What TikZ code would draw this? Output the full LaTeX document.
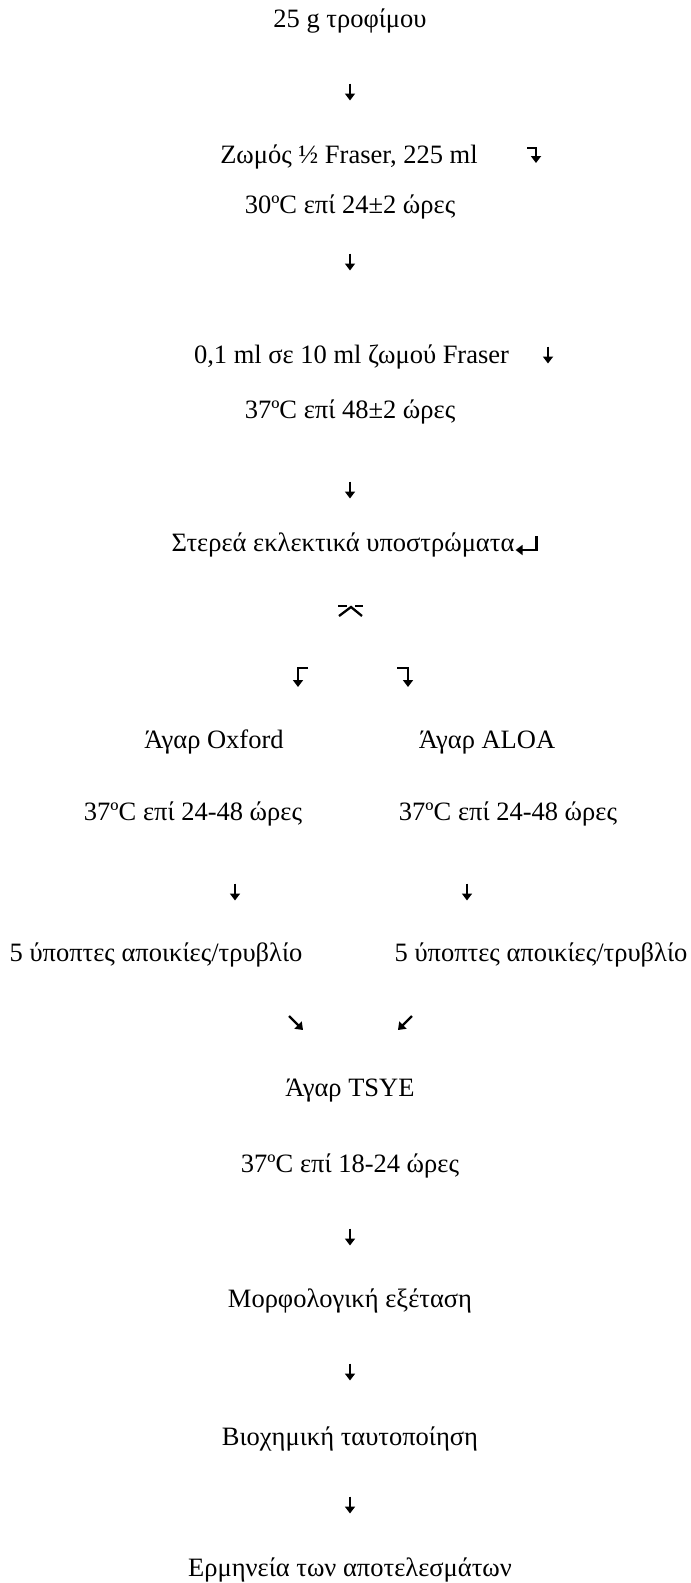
\documentclass[tikz,border=0pt]{standalone}
\usepackage{fontspec}
\setmainfont{Liberation Serif}
\usetikzlibrary{arrows.meta,calc}
\begin{document}
\begin{tikzpicture}[x=1pt,y=-1pt,
  txt/.style={inner sep=0pt, anchor=base, font=\fontsize{26.5}{30}\selectfont},
  glyph/.style={line width=2.3pt, line join=miter, line cap=butt},
  tip/.style={-{Triangle[width=10pt,length=7pt]}}]
\useasboundingbox[fill=white] (0,0) rectangle (691,1583);

% texts
\node[txt] (t1)  at (350,27)    {25 g τροφίμου};
\node[txt] (t2)  at (349,163)   {Ζωμός ½ Fraser, 225 ml};
\node[txt] (t3)  at (350,213)   {30ºC επί 24±2 ώρες};
\node[txt] (t4)  at (351.5,363) {0,1 ml σε 10 ml ζωμού Fraser};
\node[txt] (t5)  at (350,418)   {37ºC επί 48±2 ώρες};
\node[txt] (t6)  at (343,551)   {Στερεά εκλεκτικά υποστρώματα};
\node[txt] (t7)  at (214,748)   {Άγαρ Oxford};
\node[txt] (t8)  at (487,748)   {Άγαρ ALOA};
\node[txt] (t9)  at (193,820)   {37ºC επί 24-48 ώρες};
\node[txt] (t10) at (508,820)   {37ºC επί 24-48 ώρες};
\node[txt] (t11) at (156,961)   {5 ύποπτες αποικίες/τρυβλίο};
\node[txt] (t12) at (541,961)   {5 ύποπτες αποικίες/τρυβλίο};
\node[txt] (t13) at (350,1096)  {Άγαρ TSYE};
\node[txt] (t14) at (350,1172)  {37ºC επί 18-24 ώρες};
\node[txt] (t15) at (350,1307)  {Μορφολογική εξέταση};
\node[txt] (t16) at (350,1445)  {Βιοχημική ταυτοποίηση};
\node[txt] (t17) at (350,1576)  {Ερμηνεία των αποτελεσμάτων};

% glyph positions
\coordinate (d1) at (350,92);
\coordinate (d2) at (350,262);
\coordinate (d3) at (548,355);
\coordinate (d4) at (350,490);
\coordinate (d5) at (235,892);
\coordinate (d6) at (467,892);
\coordinate (d7) at (350,1237);
\coordinate (d8) at (350,1372);
\coordinate (d9) at (350,1505);
\coordinate (b1) at (532,155);
\coordinate (r1) at ($(t6.base east)+(1,0)$);
\coordinate (k1) at (350,611);
\coordinate (s1) at (303,677);
\coordinate (s2) at (405,677);
\coordinate (g1) at (296,1023);
\coordinate (g2) at (405,1023);

% down arrows
\foreach \p in {d1,d2,d3,d4,d5,d6,d7,d8,d9}
  \draw[glyph,tip] (\p) ++(0,-8.5) -- ++(0,17);

% bent arrow after "225 ml"
\draw[glyph,tip] (b1) ++(-5,-7) -- ++(9,0) -- ++(0,15);
% return arrow after "Στερεά ..."
\draw[glyph,tip] (r1) ++(21,-15) -- ++(0,14) -- ++(-21,0);
% split symbol
\draw[glyph] (k1) ++(-12,-5) -- ++(9,0);
\draw[glyph] (k1) ++(5,-5) -- ++(8,0);
\draw[glyph] (k1) ++(-11,5) -- ++(12,-9) -- ++(11,9);
% split arrows
\draw[glyph,tip] (s1) ++(5,-9) -- ++(-10,0) -- ++(0,19);
\draw[glyph,tip] (s2) ++(-8,-9) -- ++(11,0) -- ++(0,19);
% converging arrows
\draw[glyph,tip] (g1) ++(-7,-7) -- ++(14,14);
\draw[glyph,tip] (g2) ++(7,-7) -- ++(-14,14);
\end{tikzpicture}
\end{document}
